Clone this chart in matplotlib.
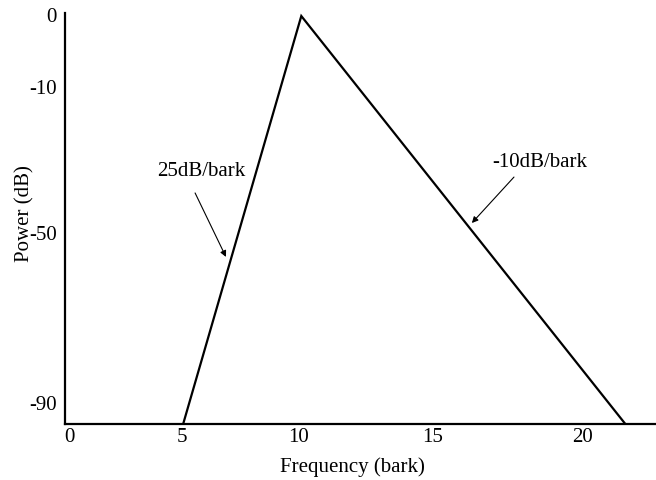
import matplotlib
matplotlib.use("Agg")
import matplotlib.pyplot as plt

# Spreading function: rise to the masker peak, then a shallower fall
freq_bark = [5.05, 10.1, 23.95]
power_db = [-95.0, 0.0, -95.0]

# Tick placement and labels (schematic axis)
xtick_pos = [0.2, 5.0, 10.0, 15.7, 22.1]
xtick_labels = ["0", "5", "10", "15", "20"]
ytick_pos = [0.2, -16.5, -50.5, -90.0]
ytick_labels = ["0", "-10", "-50", "-90"]

plt.rcParams["font.family"] = ["Liberation Serif", "DejaVu Serif"]
plt.rcParams["font.size"] = 15

fig = plt.figure(figsize=(6.56, 4.8), dpi=100)
ax = fig.add_axes([65 / 656, 56 / 480, 591 / 656, 411 / 480])

ax.plot(freq_bark, power_db, color="black", linewidth=1.6, solid_joinstyle="miter")

ax.set_xlim(0, 25.26)
ax.set_ylim(-95, 0.7)

ax.set_xticks(xtick_pos)
ax.set_xticklabels(xtick_labels)
ax.set_yticks(ytick_pos)
ax.set_yticklabels(ytick_labels)
ax.tick_params(axis="both", length=0, colors="black")
ax.tick_params(axis="x", pad=3)
ax.tick_params(axis="y", pad=6)

for side in ("top", "right"):
    ax.spines[side].set_visible(False)
for side in ("left", "bottom"):
    ax.spines[side].set_linewidth(1.6)
    ax.spines[side].set_color("black")

ax.set_xlabel("Frequency (bark)")
ax.set_ylabel("Power (dB)")
ax.xaxis.set_label_coords(0.487, -0.08)
ax.yaxis.set_label_coords(-0.051, 0.513)

arrow = dict(arrowstyle="-|>", color="black", linewidth=0.8,
             mutation_scale=9, shrinkA=0, shrinkB=0)
ax.text(5.81, -36.3, "25dB/bark", ha="center", va="center")
ax.annotate("", xy=(6.88, -56.1), xytext=(5.56, -41.2), arrowprops=arrow)
ax.text(20.3, -34.0, "-10dB/bark", ha="center", va="center")
ax.annotate("", xy=(17.39, -48.2), xytext=(19.19, -37.5), arrowprops=arrow)

fig.savefig("out.png", dpi=100)
